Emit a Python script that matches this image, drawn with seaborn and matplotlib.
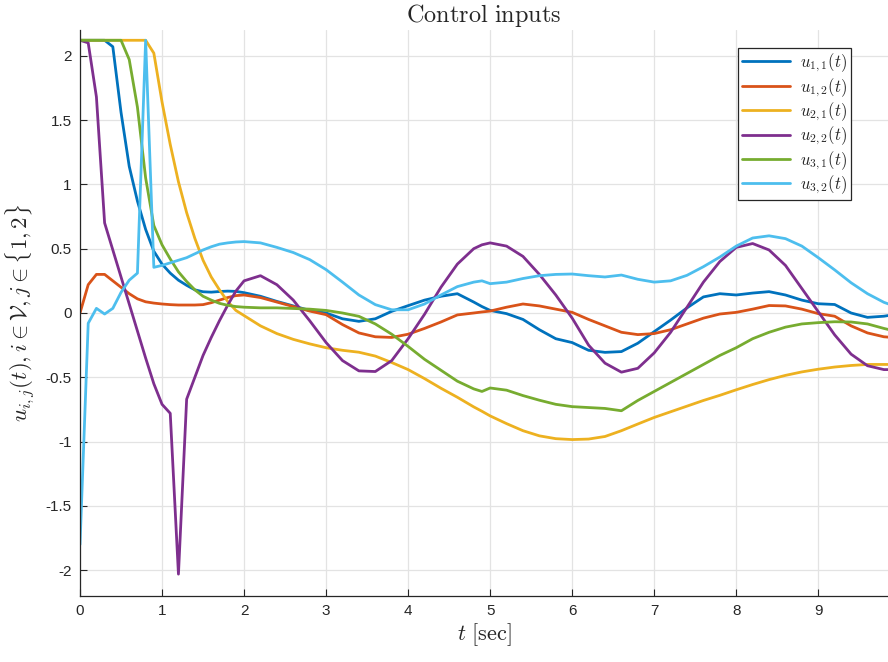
import numpy as np
import pandas as pd
import matplotlib
matplotlib.use("Agg")
import matplotlib.pyplot as plt
import seaborn as sns

# ---------------- data ----------------
t = [0.0, 0.1, 0.2, 0.3, 0.4, 0.5, 0.6, 0.7, 0.8, 0.9, 1.0, 1.1, 1.2, 1.3, 1.4,
     1.5, 1.6, 1.7, 1.8, 1.9, 2.0, 2.2, 2.4, 2.6, 2.8, 3.0, 3.2, 3.4, 3.6, 3.8,
     4.0, 4.2, 4.4, 4.6, 4.8, 4.9, 5.0, 5.2, 5.4, 5.6, 5.8, 6.0, 6.2, 6.4, 6.6,
     6.8, 7.0, 7.2, 7.4, 7.6, 7.8, 8.0, 8.2, 8.4, 8.6, 8.8, 9.0, 9.2, 9.4, 9.6,
     9.8, 9.9]

u11 = [2.12, 2.12, 2.12, 2.12, 2.07, 1.56, 1.14, 0.87, 0.65, 0.48, 0.38, 0.31,
       0.255, 0.215, 0.18, 0.165, 0.162, 0.167, 0.17, 0.168, 0.158, 0.13, 0.09,
       0.055, 0.02, 0.0, -0.045, -0.065, -0.045, 0.013, 0.057, 0.1, 0.13, 0.15,
       0.085, 0.05, 0.02, -0.005, -0.05, -0.13, -0.2, -0.23, -0.29, -0.306, -0.3,
       -0.235, -0.145, -0.055, 0.04, 0.125, 0.15, 0.14, 0.155, 0.166, 0.14, 0.1,
       0.072, 0.066, 0.0, -0.034, -0.025, -0.015]

u12 = [0.0, 0.22, 0.3, 0.3, 0.25, 0.2, 0.15, 0.11, 0.087, 0.077, 0.07, 0.065,
       0.062, 0.062, 0.062, 0.065, 0.08, 0.1, 0.12, 0.135, 0.14, 0.12, 0.085,
       0.05, 0.015, -0.013, -0.09, -0.155, -0.185, -0.19, -0.165, -0.12, -0.07,
       -0.015, 0.0, 0.008, 0.015, 0.045, 0.07, 0.055, 0.03, 0.005, -0.05, -0.1,
       -0.15, -0.168, -0.16, -0.13, -0.085, -0.04, -0.008, 0.005, 0.03, 0.058,
       0.055, 0.03, -0.005, -0.025, -0.1, -0.155, -0.185, -0.19]

u21 = [2.12, 2.12, 2.12, 2.12, 2.12, 2.12, 2.12, 2.12, 2.12, 2.02, 1.64, 1.31,
       1.02, 0.78, 0.58, 0.41, 0.28, 0.18, 0.09, 0.02, -0.02, -0.1, -0.16, -0.205,
       -0.24, -0.27, -0.29, -0.305, -0.335, -0.385, -0.44, -0.51, -0.585, -0.655,
       -0.73, -0.764, -0.8, -0.86, -0.915, -0.955, -0.977, -0.984, -0.98, -0.96,
       -0.915, -0.863, -0.812, -0.768, -0.724, -0.68, -0.64, -0.597, -0.556,
       -0.518, -0.485, -0.458, -0.437, -0.42, -0.408, -0.4, -0.4, -0.4]

u22 = [2.12, 2.1, 1.68, 0.7, 0.49, 0.28, 0.07, -0.14, -0.35, -0.55, -0.71, -0.78,
       -2.03, -0.67, -0.5, -0.33, -0.19, -0.06, 0.06, 0.17, 0.25, 0.29, 0.22, 0.1,
       -0.06, -0.23, -0.37, -0.45, -0.455, -0.37, -0.2, -0.01, 0.2, 0.38, 0.5,
       0.53, 0.545, 0.52, 0.44, 0.3, 0.14, -0.04, -0.25, -0.39, -0.46, -0.43,
       -0.31, -0.15, 0.045, 0.24, 0.4, 0.51, 0.54, 0.49, 0.37, 0.19, 0.01, -0.17,
       -0.32, -0.41, -0.44, -0.44]

u31 = [2.12, 2.12, 2.12, 2.12, 2.12, 2.12, 1.97, 1.6, 1.05, 0.68, 0.53, 0.42,
       0.32, 0.245, 0.18, 0.13, 0.1, 0.075, 0.06, 0.05, 0.045, 0.04, 0.04, 0.035,
       0.03, 0.02, 0.0, -0.026, -0.085, -0.165, -0.26, -0.36, -0.445, -0.53,
       -0.59, -0.61, -0.583, -0.6, -0.642, -0.678, -0.71, -0.728, -0.735, -0.742,
       -0.76, -0.68, -0.61, -0.54, -0.47, -0.4, -0.33, -0.27, -0.2, -0.15, -0.11,
       -0.085, -0.075, -0.068, -0.07, -0.085, -0.12, -0.135]

u32 = [-1.8, -0.08, 0.036, -0.008, 0.036, 0.16, 0.255, 0.31, 2.12, 0.355, 0.37,
       0.39, 0.41, 0.43, 0.46, 0.49, 0.515, 0.535, 0.545, 0.552, 0.555, 0.545,
       0.51, 0.47, 0.415, 0.337, 0.24, 0.14, 0.065, 0.025, 0.025, 0.07, 0.14,
       0.205, 0.24, 0.25, 0.228, 0.24, 0.268, 0.29, 0.3, 0.303, 0.29, 0.28, 0.295,
       0.262, 0.24, 0.25, 0.293, 0.36, 0.435, 0.52, 0.583, 0.6, 0.578, 0.52, 0.43,
       0.335, 0.235, 0.15, 0.083, 0.06]

labels = [r'$u_{1,1}(t)$', r'$u_{1,2}(t)$', r'$u_{2,1}(t)$',
          r'$u_{2,2}(t)$', r'$u_{3,1}(t)$', r'$u_{3,2}(t)$']
colors = ['#0072BD', '#D95319', '#EDB120', '#7E2F8E', '#77AC30', '#4DBEEE']
yticks = [-2, -1.5, -1, -0.5, 0, 0.5, 1, 1.5, 2]
ytick_labels = ['-2', '-1.5', '-1', '-0.5', '0', '0.5', '1', '1.5', '2']
xticks = [0, 1, 2, 3, 4, 5, 6, 7, 8, 9]
xtick_labels = ['0', '1', '2', '3', '4', '5', '6', '7', '8', '9']

# ---------------- build frame ----------------
series = [u11, u12, u21, u22, u31, u32]
frames = []
for lab, vals in zip(labels, series):
    frames.append(pd.DataFrame({'t': t, 'u': vals, 'series': lab}))
df = pd.concat(frames, ignore_index=True)

sns.set_style('whitegrid')
plt.rcParams['font.family'] = ['Liberation Sans', 'DejaVu Sans']
plt.rcParams['mathtext.fontset'] = 'cm'

fig = plt.figure(figsize=(8.88, 6.62), dpi=100)
ax = fig.add_axes([0.0901, 0.0997, 0.9099, 0.8550])

sns.lineplot(data=df, x='t', y='u', hue='series', hue_order=labels,
             palette=colors, linewidth=2.0, sort=False, estimator=None,
             ax=ax)

ax.set_xlim(0, 9.85)
ax.set_ylim(-2.2, 2.2)
ax.set_xticks(xticks)
ax.set_xticklabels(xtick_labels)
ax.set_yticks(yticks)
ax.set_yticklabels(ytick_labels)

ax.grid(True, color='#e3e3e3', linewidth=0.9)
for s in ['top', 'right']:
    ax.spines[s].set_visible(False)
for s in ['left', 'bottom']:
    ax.spines[s].set_color('#262626')
    ax.spines[s].set_linewidth(0.9)
ax.tick_params(axis='both', direction='in', length=5, width=0.8,
               color='#262626', labelsize=11, labelcolor='#262626',
               left=True, bottom=True, pad=6)

ax.set_title(r'$\mathrm{Control\ inputs}$', fontsize=17.5, pad=6)
ax.set_xlabel(r'$t\ \mathrm{[sec]}$', fontsize=16, labelpad=2)
ax.set_ylabel(r'$u_{i,j}(t), i \in \mathcal{V}, j \in \{1,2\}$',
              fontsize=16.5, labelpad=6)

leg = ax.legend(loc='upper right', bbox_to_anchor=(0.954, 0.968),
                borderaxespad=0, fontsize=12, handlelength=2.9,
                labelspacing=0.12, handletextpad=0.6, borderpad=0.22,
                frameon=True, fancybox=False, framealpha=1)
leg.get_frame().set_edgecolor('#262626')
leg.get_frame().set_linewidth(0.9)
for line in leg.get_lines():
    line.set_linewidth(2.0)

fig.savefig('out.png', dpi=100)
